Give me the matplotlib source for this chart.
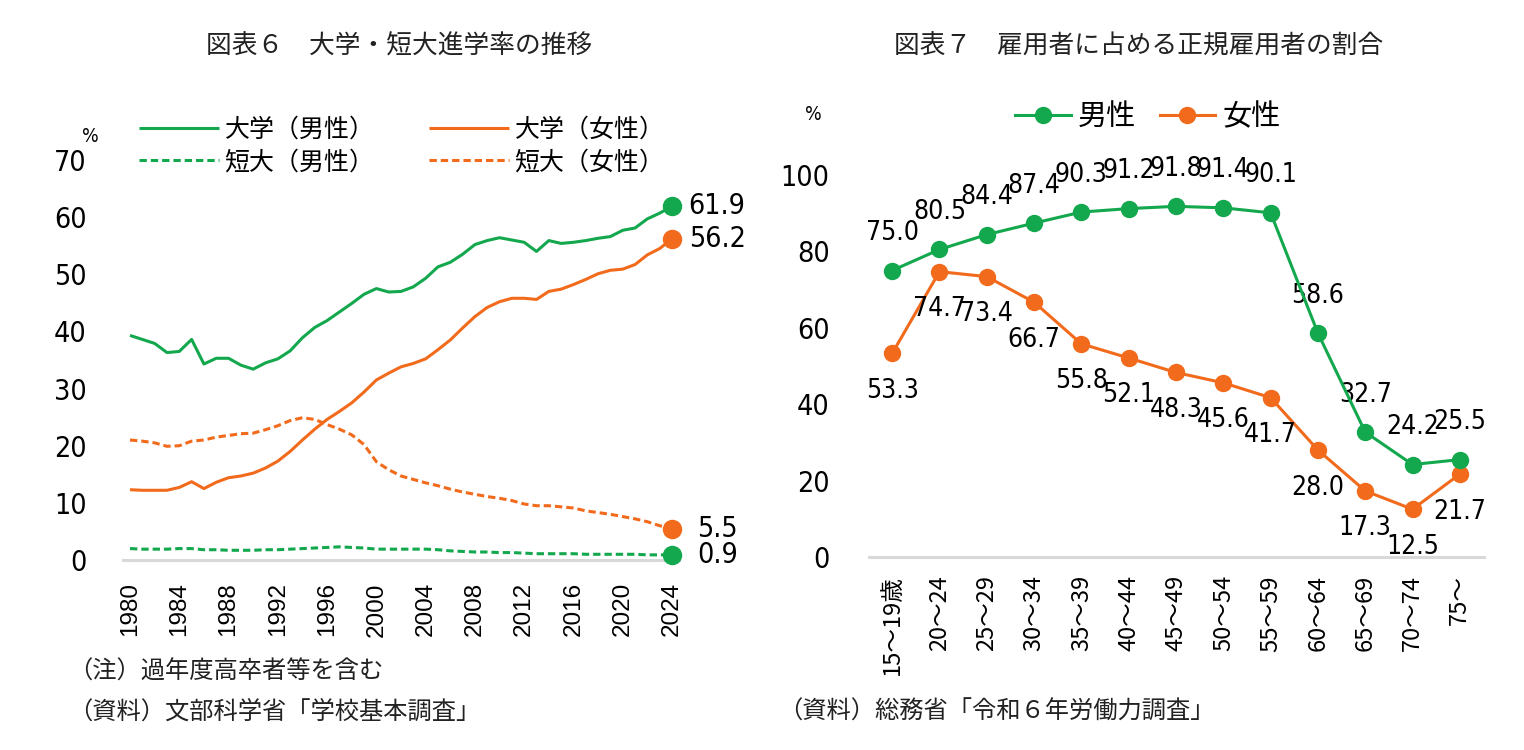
import matplotlib
matplotlib.use("Agg")
import matplotlib.pyplot as plt
from matplotlib import font_manager as fm

plt.rcParams['font.family'] = ['Noto Sans CJK JP', 'DejaVu Sans']

# ---------------- data: 図表6 ----------------
years = list(range(1980, 2025))
univ_male = [39.3, 38.6, 37.9, 36.3, 36.5, 38.6, 34.3, 35.3, 35.3, 34.1,
             33.4, 34.5, 35.2, 36.6, 38.9, 40.7, 41.9, 43.4, 44.9, 46.5,
             47.5, 46.9, 47.0, 47.8, 49.3, 51.3, 52.1, 53.5, 55.2, 55.9,
             56.4, 56.0, 55.6, 54.0, 55.9, 55.4, 55.6, 55.9, 56.3, 56.6,
             57.7, 58.1, 59.7, 60.7, 61.9]
univ_female = [12.3, 12.2, 12.2, 12.2, 12.7, 13.7, 12.5, 13.6, 14.4, 14.7,
               15.2, 16.1, 17.3, 19.0, 21.0, 22.9, 24.6, 26.0, 27.5, 29.4,
               31.5, 32.7, 33.8, 34.4, 35.2, 36.8, 38.5, 40.6, 42.6, 44.2,
               45.2, 45.8, 45.8, 45.6, 47.0, 47.4, 48.2, 49.1, 50.1, 50.7,
               50.9, 51.7, 53.4, 54.5, 56.2]
jc_male = [2.0, 1.9, 1.9, 1.9, 2.0, 2.0, 1.8, 1.8, 1.7, 1.7,
           1.7, 1.8, 1.8, 1.9, 2.0, 2.1, 2.2, 2.3, 2.2, 2.1,
           1.9, 1.9, 1.9, 1.9, 1.9, 1.8, 1.6, 1.5, 1.4, 1.4,
           1.3, 1.3, 1.2, 1.1, 1.1, 1.1, 1.1, 1.0, 1.0, 1.0,
           1.0, 1.0, 0.9, 0.9, 0.9]
jc_female = [21.0, 20.8, 20.5, 19.9, 20.0, 20.8, 21.0, 21.5, 21.8, 22.1,
             22.2, 22.8, 23.5, 24.4, 24.9, 24.6, 23.7, 22.9, 21.9, 20.2,
             17.2, 15.8, 14.7, 14.1, 13.5, 13.0, 12.4, 11.9, 11.5, 11.1,
             10.8, 10.4, 9.8, 9.5, 9.5, 9.3, 9.1, 8.6, 8.3, 8.0,
             7.6, 7.2, 6.7, 6.0, 5.5]
year_ticks = list(range(1980, 2025, 4))
left_series_names = ['大学（男性）', '短大（男性）', '大学（女性）', '短大（女性）']

# ---------------- data: 図表7 ----------------
age_groups = ['15～19歳', '20～24', '25～29', '30～34', '35～39', '40～44', '45～49',
              '50～54', '55～59', '60～64', '65～69', '70～74', '75～']
reg_male = [75.0, 80.5, 84.4, 87.4, 90.3, 91.2, 91.8, 91.4, 90.1, 58.6, 32.7, 24.2, 25.5]
reg_female = [53.3, 74.7, 73.4, 66.7, 55.8, 52.1, 48.3, 45.6, 41.7, 28.0, 17.3, 12.5, 21.7]

GREEN = '#13A84E'
ORANGE = '#F26A1B'
GRAY = '#D9D9D9'
W, H = 1524, 750

# ---- pick a narrow font for the numbers if one is installed ----
def find_narrow():
    cands = []
    for f in fm.fontManager.ttflist:
        name = f.name.lower()
        fname = f.fname.lower()
        narrow = ('narrow' in name or 'condensed' in name or 'narrow' in fname
                  or 'condensed' in fname or f.stretch in ('condensed', 'semi-condensed',
                                                           'extra-condensed', 'ultra-condensed', 500, 600))
        if not narrow:
            continue
        if 'mono' in name or 'serif' in name and 'sans' not in name:
            continue
        if f.style != 'normal':
            continue
        score = 0
        if f.weight in (400, 'normal', 'regular'):
            score += 2
        if 'extra' in fname or 'ultra' in fname:
            score -= 1
        if 'semi' in fname:
            score -= 0.5
        cands.append((score, f.fname))
    if cands:
        cands.sort(key=lambda t: -t[0])
        return fm.FontProperties(fname=cands[0][1])
    return None

NARROW = find_narrow()
HAVE_NARROW = NARROW is not None

def numprops(size):
    if HAVE_NARROW:
        p = NARROW.copy()
        p.set_size(size)
        return p
    return fm.FontProperties(family=['DejaVu Sans'], size=size * 0.85)

fig = plt.figure(figsize=(W / 100, H / 100), dpi=100)

def fx(px):
    return px / W

def fy(py):
    return 1 - py / H

# ---------------- left chart ----------------
ax1 = fig.add_axes([fx(123), fy(560), fx(679 - 123), (560 - 160) / H])
lw = 2.2
dash = (0, (2.4, 1.3))
l1, = ax1.plot(years, univ_male, color=GREEN, lw=lw, solid_capstyle='butt')
l2, = ax1.plot(years, jc_male, color=GREEN, lw=lw, linestyle=dash)
l3, = ax1.plot(years, univ_female, color=ORANGE, lw=lw, solid_capstyle='butt')
l4, = ax1.plot(years, jc_female, color=ORANGE, lw=lw, linestyle=dash)
for ser, col in [(univ_male, GREEN), (univ_female, ORANGE), (jc_female, ORANGE), (jc_male, GREEN)]:
    ax1.plot([years[-1]], [ser[-1]], 'o', color=col, ms=13, clip_on=False, zorder=5)
for ser, off in [(univ_male, 12), (univ_female, 12), (jc_female, 18), (jc_male, 18)]:
    ax1.annotate(f'{ser[-1]:.1f}', (years[-1], ser[-1]), xytext=(off, 0),
                 textcoords='offset points', va='center', ha='left', fontproperties=numprops(20.5))

ax1.set_xlim(1979.43, 2024.57)
ax1.set_ylim(0, 70)
ax1.set_yticks(range(0, 71, 10))
ax1.set_xticks(year_ticks)
ax1.set_xticklabels([str(y) for y in year_ticks], rotation=90, fontsize=17.5,
                    family=['Liberation Sans', 'DejaVu Sans'])
for t in ax1.get_yticklabels():
    t.set_fontproperties(numprops(20.5))
ax1.tick_params(axis='both', length=0)
ax1.tick_params(axis='y', pad=26)
ax1.tick_params(axis='x', pad=16)
for s in ['top', 'right', 'left']:
    ax1.spines[s].set_visible(False)
ax1.spines['bottom'].set_color(GRAY)
ax1.spines['bottom'].set_linewidth(2.2)
ax1.spines['bottom'].set_zorder(1)

fig.text(fx(90), fy(137), '%', fontproperties=numprops(14), ha='center', va='center')

fig.legend([l1, l2, l3, l4], left_series_names, loc='center', ncol=2,
           bbox_to_anchor=(fx(402), fy(146)), frameon=False, fontsize=18,
           handlelength=3.2, handletextpad=0.2, columnspacing=2.2, labelspacing=0.25)

fig.text(fx(399), fy(47), '図表６　大学・短大進学率の推移', fontsize=18.5,
         ha='center', va='center', color='#222222')
fig.text(fx(68), fy(672), '（注）過年度高卒者等を含む', fontsize=17.5, ha='left', va='center', color='#222222')
fig.text(fx(68), fy(712), '（資料）文部科学省「学校基本調査」', fontsize=17.5, ha='left', va='center', color='#222222')

# ---------------- right chart ----------------
ax2 = fig.add_axes([fx(868.5), fy(557), fx(615), (557 - 175) / H])
xs = list(range(len(age_groups)))
m1, = ax2.plot(xs, reg_male, color=GREEN, lw=2.2, marker='o', ms=11.5, clip_on=False, zorder=4)
m2, = ax2.plot(xs, reg_female, color=ORANGE, lw=2.2, marker='o', ms=11.5, clip_on=False, zorder=3)
for x, v in zip(xs, reg_male):
    ax2.annotate(f'{v:.1f}', (x, v), xytext=(0, 27), textcoords='offset points',
                 ha='center', va='center', fontproperties=numprops(19))
for x, v in zip(xs, reg_female):
    ax2.annotate(f'{v:.1f}', (x, v), xytext=(0, -27), textcoords='offset points',
                 ha='center', va='center', fontproperties=numprops(19))
ax2.set_xlim(-0.5, 12.5)
ax2.set_ylim(0, 100)
ax2.set_yticks(range(0, 101, 20))
ax2.set_xticks(xs)
ax2.set_xticklabels(age_groups, rotation=90, fontsize=17)
for t in ax2.get_yticklabels():
    t.set_fontproperties(numprops(20.5))
ax2.tick_params(axis='both', length=0)
ax2.tick_params(axis='y', pad=28)
ax2.tick_params(axis='x', pad=13)
for s in ['top', 'right', 'left']:
    ax2.spines[s].set_visible(False)
ax2.spines['bottom'].set_color(GRAY)
ax2.spines['bottom'].set_linewidth(2.2)
ax2.spines['bottom'].set_zorder(1)

fig.text(fx(813), fy(115), '%', fontproperties=numprops(14), ha='center', va='center')
fig.legend([m1, m2], ['男性', '女性'], loc='center', ncol=2,
           bbox_to_anchor=(fx(1148), fy(117)), frameon=False, fontsize=21,
           handlelength=1.9, handletextpad=0.25, columnspacing=0.8)

fig.text(fx(1139), fy(47), '図表７　雇用者に占める正規雇用者の割合', fontsize=18.5,
         ha='center', va='center', color='#222222')
fig.text(fx(778), fy(712), '（資料）総務省「令和６年労働力調査」', fontsize=17.5,
         ha='left', va='center', color='#222222')

fig.savefig('out.png', dpi=100, facecolor='white')
